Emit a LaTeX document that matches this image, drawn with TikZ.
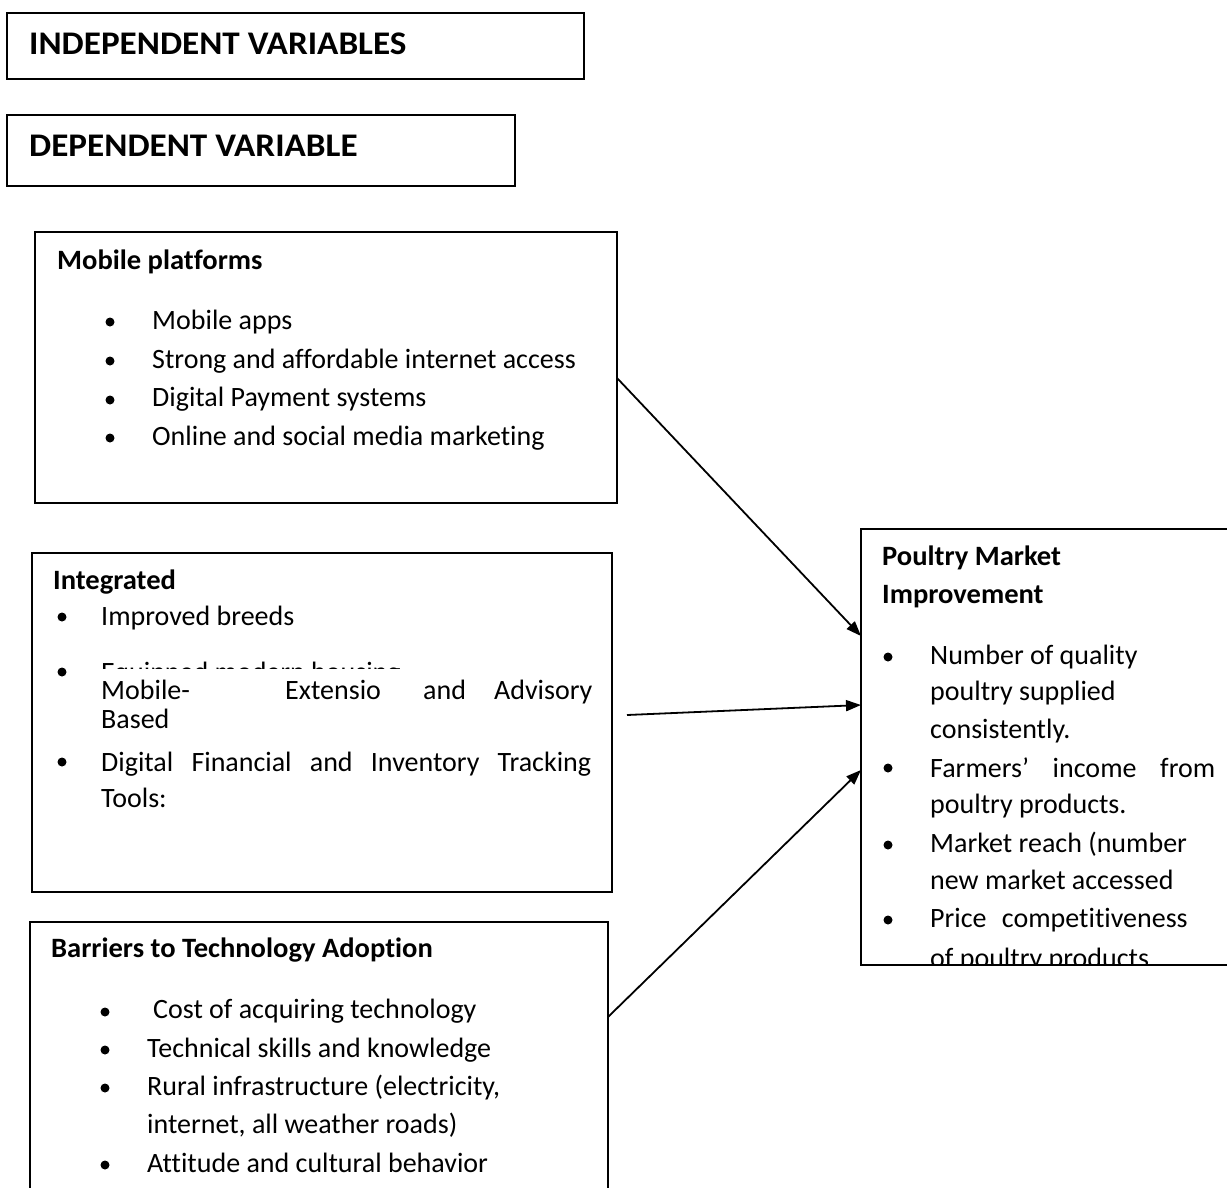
\documentclass[tikz,border=0pt]{standalone}
\usepackage{fontspec}
\setmainfont{Carlito}[Ligatures=CommonOff, BoldFeatures={FakeStretch=1.02}]
\newfontfamily\bigbold{Carlito}[Ligatures=CommonOff, UprightFont=*-Bold, FakeStretch=1.065]
\usetikzlibrary{arrows.meta}
\begin{document}
\begin{tikzpicture}[x=1pt,y=-1pt,
  box/.style={draw, line width=1.3pt, anchor=north west, inner sep=0pt, outer sep=0pt},
  txt/.style={anchor=base west, inner sep=0pt, font=\fontsize{28}{33}\selectfont},
  ttl/.style={anchor=base west, inner sep=0pt, font=\fontsize{28}{33}\selectfont\bfseries},
  big/.style={anchor=base west, inner sep=0pt, font=\fontsize{33}{38}\bigbold},
  bul/.style={circle, fill, inner sep=0pt, minimum size=9pt},
  arr/.style={line width=1.8pt, -{Triangle[length=15pt,width=11pt]}}]
\useasboundingbox (0,0) rectangle (1227,1187);
\clip (0,0) rectangle (1227,1187);
\fill[white] (0,0) rectangle (1227,1187);

% headers
\node[box, minimum width=577pt, minimum height=66pt] (indep) at (7,13) {};
\node[big] (indepT) at (29,54) {INDEPENDENT VARIABLES};
\node[box, minimum width=508pt, minimum height=71pt] (dep) at (7,115) {};
\node[big] (depT) at (29,156) {DEPENDENT VARIABLE};

% mobile platforms
\node[box, line width=2pt, minimum width=582pt, minimum height=271pt] (mob) at (35,232) {};
\node[ttl] (mobT) at (57,269) {Mobile platforms};
\node[bul] (mb1) at (110,322) {};
\node[txt] (m1) at (152,329) {Mobile apps};
\node[bul] (mb2) at (110,361) {};
\node[txt] (m2) at (152,368) {Strong and affordable internet access};
\node[bul] (mb3) at (110,400) {};
\node[txt] (m3) at (152,406) {Digital Payment systems};
\node[bul] (mb4) at (110,438) {};
\node[txt] (m4) at (152,445) {Online and social media marketing};

% integrated
\node[box, minimum width=580pt, minimum height=339pt] (integ) at (32,553) {};
\node[ttl] (integT) at (53,589) {Integrated};
\node[bul] (ib1) at (62,617) {};
\node[txt] (i1) at (101,625) {Improved breeds};
\begin{scope}
\clip (90,650) rectangle (600,668);
\node[txt] (i2) at (101,681) {Equipped modern housing};
\end{scope}
\node[bul] (ib2) at (62,672) {};
\node[txt] (i3) at (101,699) {\rlap{Mobile-}\hspace{184pt}\rlap{Extensio}\hspace{138pt}\rlap{and}\hspace{71pt}Advisory};
\node[txt] (i3b) at (101,728) {Based};
\node[bul] (ib3) at (62,762) {};
\node[txt] (i4) at (101,771) {\makebox[490pt][s]{Digital Financial and Inventory Tracking}};
\node[txt] (i4b) at (101,807) {Tools:};

% barriers
\node[box, minimum width=578pt, minimum height=300pt] (bar) at (30,922) {};
\node[ttl] (barT) at (51,957) {Barriers to Technology Adoption};
\node[bul] (bb1) at (105,1012) {};
\node[txt] (b1) at (153,1018) {Cost of acquiring technology};
\node[bul] (bb2) at (105,1050) {};
\node[txt] (b2) at (147,1057) {Technical skills and knowledge};
\node[bul] (bb3) at (105,1088) {};
\node[txt] (b3) at (147,1095) {Rural infrastructure (electricity,};
\node[txt] (b3b) at (147,1133) {internet, all weather roads)};
\node[bul] (bb4) at (105,1165) {};
\node[txt] (b4) at (147,1172) {Attitude and cultural behavior};

% poultry
\node[box, minimum width=380pt, minimum height=436pt] (poul) at (861,529) {};
\node[ttl] (poulT) at (882,565) {Poultry Market};
\node[ttl] (poulT2) at (882,603) {Improvement};
\node[bul] (pb1) at (888,657) {};
\node[txt] (p1) at (930,664) {Number of quality};
\node[txt] (p1b) at (930,700) {poultry supplied};
\node[txt] (p1c) at (930,738) {consistently.};
\node[bul] (pb2) at (888,768) {};
\node[txt] (p2) at (930,777) {\makebox[285pt][s]{Farmers’ income from}};
\node[txt] (p2b) at (930,813) {poultry products.};
\node[bul] (pb3) at (888,845) {};
\node[txt] (p3) at (930,852) {Market reach (number};
\node[txt] (p3b) at (930,889) {new market accessed};
\node[bul] (pb4) at (888,920) {};
\node[txt] (p4) at (930,927) {Price\hspace{9pt} competitiveness};
\begin{scope}
\clip (900,930) rectangle (1227,964);
\node[txt] (p4b) at (930,967) {of poultry products};
\end{scope}

% connectors
\coordinate (a1s) at (mob.east |- 0,378);
\coordinate (a1e) at (poul.west |- 0,636);
\coordinate (a2s) at (627,715);
\coordinate (a2e) at (poul.west |- 0,705);
\coordinate (a3s) at (bar.east |- 0,1017);
\coordinate (a3e) at (poul.west |- 0,770);
\draw[arr] (a1s) -- (a1e);
\draw[arr] (a2s) -- (a2e);
\draw[arr] (a3s) -- (a3e);
\end{tikzpicture}
\end{document}
